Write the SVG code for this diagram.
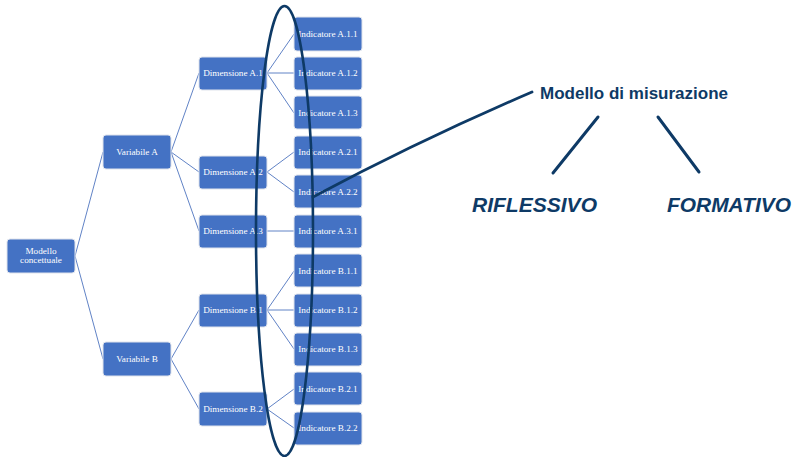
<svg xmlns="http://www.w3.org/2000/svg" width="795" height="457" viewBox="0 0 795 457">
<style>
.box rect{fill:#4472C4;stroke:#dfe3ec;stroke-width:1}
.box text{fill:#ffffff;font-family:"Liberation Serif",serif;font-size:9.2px;text-anchor:middle}
.conn line{stroke:#6183c6;stroke-width:1}
.ink{stroke:#0e3a66;fill:none;stroke-linecap:round}
.title{fill:#0e3a66;font-family:"Liberation Sans",Arial,sans-serif;font-weight:bold}
</style>
<rect width="795" height="457" fill="#ffffff"/>
<g class="conn">
<line x1="75" y1="256" x2="103" y2="152"/>
<line x1="75" y1="256" x2="103" y2="359"/>
<line x1="171" y1="152" x2="199" y2="73"/>
<line x1="171" y1="152" x2="199" y2="172"/>
<line x1="171" y1="152" x2="199" y2="231"/>
<line x1="171" y1="359" x2="199" y2="310"/>
<line x1="171" y1="359" x2="199" y2="409"/>
<line x1="267" y1="73" x2="294" y2="34"/>
<line x1="267" y1="73" x2="294" y2="73"/>
<line x1="267" y1="73" x2="294" y2="113"/>
<line x1="267" y1="172" x2="294" y2="152"/>
<line x1="267" y1="172" x2="294" y2="192"/>
<line x1="267" y1="231" x2="294" y2="231"/>
<line x1="267" y1="310" x2="294" y2="271"/>
<line x1="267" y1="310" x2="294" y2="310"/>
<line x1="267" y1="310" x2="294" y2="349"/>
<line x1="267" y1="409" x2="294" y2="389"/>
<line x1="267" y1="409" x2="294" y2="428"/>
</g>
<g id="modello-concettuale" class="box"><rect x="7" y="239" width="68" height="34" rx="3"/><text x="41" y="254">Modello</text><text x="41" y="263">concettuale</text></g>
<g id="variabile-a" class="box"><rect x="103" y="135" width="68" height="34" rx="3"/><text x="137" y="155">Variabile A</text></g>
<g id="variabile-b" class="box"><rect x="103" y="342" width="68" height="34" rx="3"/><text x="137" y="362">Variabile B</text></g>
<g id="dimensione-a1" class="box"><rect x="199" y="57" width="68" height="33" rx="3"/><text x="233" y="76">Dimensione A.1</text></g>
<g id="dimensione-a2" class="box"><rect x="199" y="156" width="68" height="33" rx="3"/><text x="233" y="175">Dimensione A.2</text></g>
<g id="dimensione-a3" class="box"><rect x="199" y="215" width="68" height="33" rx="3"/><text x="233" y="234">Dimensione A.3</text></g>
<g id="dimensione-b1" class="box"><rect x="199" y="294" width="68" height="33" rx="3"/><text x="233" y="313">Dimensione B.1</text></g>
<g id="dimensione-b2" class="box"><rect x="199" y="392" width="68" height="34" rx="3"/><text x="233" y="412">Dimensione B.2</text></g>
<g id="ind-a11" class="box"><rect x="294" y="17" width="68" height="34" rx="3"/><text x="328" y="37">Indicatore A.1.1</text></g>
<g id="ind-a12" class="box"><rect x="294" y="57" width="68" height="33" rx="3"/><text x="328" y="76">Indicatore A.1.2</text></g>
<g id="ind-a13" class="box"><rect x="294" y="96" width="68" height="33" rx="3"/><text x="328" y="116">Indicatore A.1.3</text></g>
<g id="ind-a21" class="box"><rect x="294" y="136" width="68" height="33" rx="3"/><text x="328" y="155">Indicatore A.2.1</text></g>
<g id="ind-a22" class="box"><rect x="294" y="175" width="68" height="33" rx="3"/><text x="328" y="195">Indicatore A.2.2</text></g>
<g id="ind-a31" class="box"><rect x="294" y="215" width="68" height="33" rx="3"/><text x="328" y="234">Indicatore A.3.1</text></g>
<g id="ind-b11" class="box"><rect x="294" y="254" width="68" height="33" rx="3"/><text x="328" y="274">Indicatore B.1.1</text></g>
<g id="ind-b12" class="box"><rect x="294" y="294" width="68" height="33" rx="3"/><text x="328" y="313">Indicatore B.1.2</text></g>
<g id="ind-b13" class="box"><rect x="294" y="333" width="68" height="33" rx="3"/><text x="328" y="352">Indicatore B.1.3</text></g>
<g id="ind-b21" class="box"><rect x="294" y="372" width="68" height="33" rx="3"/><text x="328" y="392">Indicatore B.2.1</text></g>
<g id="ind-b22" class="box"><rect x="294" y="412" width="68" height="33" rx="3"/><text x="328" y="431">Indicatore B.2.2</text></g>
<g id="ellipse-mark"><ellipse class="ink" cx="284.5" cy="231" rx="28.5" ry="225" stroke-width="2.6"/></g>
<g id="pointer"><path class="ink" d="M313 197 Q420 140 532 92" stroke-width="2.8"/></g>
<g id="modello-misurazione"><text class="title" x="540" y="99" font-size="17" textLength="188" lengthAdjust="spacingAndGlyphs">Modello di misurazione</text></g>
<g id="branches">
<line class="ink" x1="598" y1="117" x2="553" y2="173" stroke-width="3"/>
<line class="ink" x1="658" y1="117" x2="699" y2="172" stroke-width="3"/>
</g>
<g id="riflessivo"><text class="title" x="472" y="212" font-size="21" font-style="italic" textLength="125" lengthAdjust="spacingAndGlyphs">RIFLESSIVO</text></g>
<g id="formativo"><text class="title" x="667" y="212" font-size="21" font-style="italic" textLength="124" lengthAdjust="spacingAndGlyphs">FORMATIVO</text></g>
</svg>
